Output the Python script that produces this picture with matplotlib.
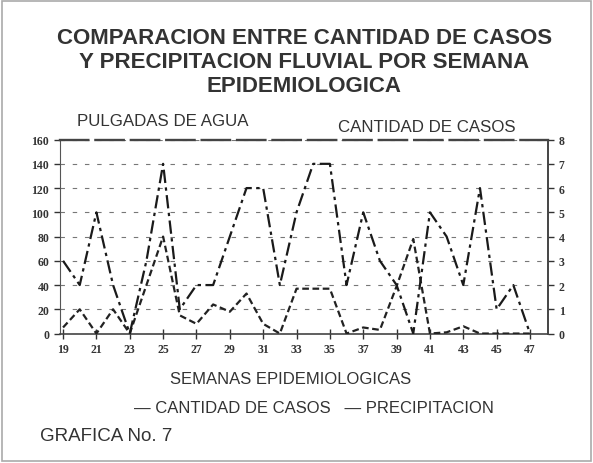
import matplotlib.pyplot as plt
from matplotlib.patches import Rectangle

plt.rcParams['font.family'] = ['Liberation Sans', 'DejaVu Sans']

# datos (semana epidemiologica 19 a 47)
semanas = list(range(19, 48))
casos = [3, 2, 5, 2, 0, 3, 7, 1, 2, 2, 4, 6, 6, 2, 5, 7, 7, 2, 5, 3, 2, 0, 5, 4, 2, 6, 1, 2, 0]
precipitacion = [5, 20, 0, 20, 0, 40, 80, 15, 8, 24, 18, 33, 8, 0, 37, 37, 37, 0, 5, 3, 39, 78, 0, 1, 6, 0, 0, 0, 0]

ticks_semana = list(range(19, 48, 2))
ticks_pulgadas = list(range(0, 161, 20))
ticks_casos = list(range(0, 9))

gris = '#333333'

fig = plt.figure(figsize=(5.93, 4.64), dpi=100)
ax = fig.add_axes([0.1007, 0.279, 0.824, 0.418])
ax2 = ax.twinx()

ax.plot(semanas, precipitacion, color='#222222', lw=1.6,
        linestyle=(0, (3, 1.6)), zorder=3)
ax2.plot(semanas, casos, color='#1a1a1a', lw=1.6,
         linestyle=(0, (6, 2, 1.5, 2)), zorder=3)

ax.set_xlim(18.8, 48.1)
ax.set_ylim(0, 160)
ax2.set_ylim(0, 8)
ax.set_xticks(ticks_semana)
ax.set_yticks(ticks_pulgadas)
ax2.set_yticks(ticks_casos)

ax.grid(axis='y', linestyle=(0, (4, 7)), color='#777777', lw=0.8)
ax.set_axisbelow(True)

for a in (ax, ax2):
    for lab in a.get_xticklabels() + a.get_yticklabels():
        lab.set_family(['Liberation Serif', 'DejaVu Serif'])
        lab.set_fontsize(8.5)
        lab.set_fontweight('bold')
        lab.set_color('#444444')
ax.tick_params(axis='x', direction='inout', length=7, width=1, colors=gris, pad=3)
ax.tick_params(axis='y', length=4, width=1, colors=gris)
ax2.tick_params(axis='y', length=4, width=1, colors=gris)

ax.spines['right'].set_visible(False)
ax.spines['top'].set_linestyle((0, (12, 3)))
ax.spines['top'].set_linewidth(1.7)
ax.spines['top'].set_color('#444444')
ax.spines['left'].set_color('#555555')
ax.spines['bottom'].set_color('#444444')
ax.spines['bottom'].set_linewidth(1.2)
for s in ('top', 'left', 'bottom'):
    ax2.spines[s].set_visible(False)
ax2.spines['right'].set_color('#444444')
ax2.spines['right'].set_linewidth(1.4)

def fy(py):
    return 1 - py / 464

fig.text(0.513, fy(38), 'COMPARACION ENTRE CANTIDAD DE CASOS', ha='center', va='center',
         fontsize=16, fontweight='bold', color=gris)
fig.text(0.513, fy(62), 'Y PRECIPITACION FLUVIAL POR SEMANA', ha='center', va='center',
         fontsize=16, fontweight='bold', color=gris)
fig.text(0.513, fy(87), 'EPIDEMIOLOGICA', ha='center', va='center',
         fontsize=16, fontweight='bold', color=gris)

fig.text(162.5 / 593, fy(121), 'PULGADAS DE AGUA', ha='center', va='center',
         fontsize=12.2, color=gris)
fig.text(427 / 593, fy(127), 'CANTIDAD DE CASOS', ha='center', va='center',
         fontsize=12.2, color=gris)

fig.text(291 / 593, fy(380), 'SEMANAS EPIDEMIOLOGICAS', ha='center', va='center',
         fontsize=12, color=gris)
fig.text(314 / 593, fy(409), '\u2014 CANTIDAD DE CASOS   \u2014 PRECIPITACION', ha='center',
         va='center', fontsize=12, color=gris)
fig.text(40 / 593, fy(437), 'GRAFICA No. 7', ha='left', va='center',
         fontsize=13.5, color=gris)

fig.patches.append(Rectangle((0.004, 0.004), 0.992, 0.992, transform=fig.transFigure,
                             fill=False, edgecolor='#aaaaaa', lw=1.2))

fig.savefig('out.png', dpi=100, facecolor='white')
